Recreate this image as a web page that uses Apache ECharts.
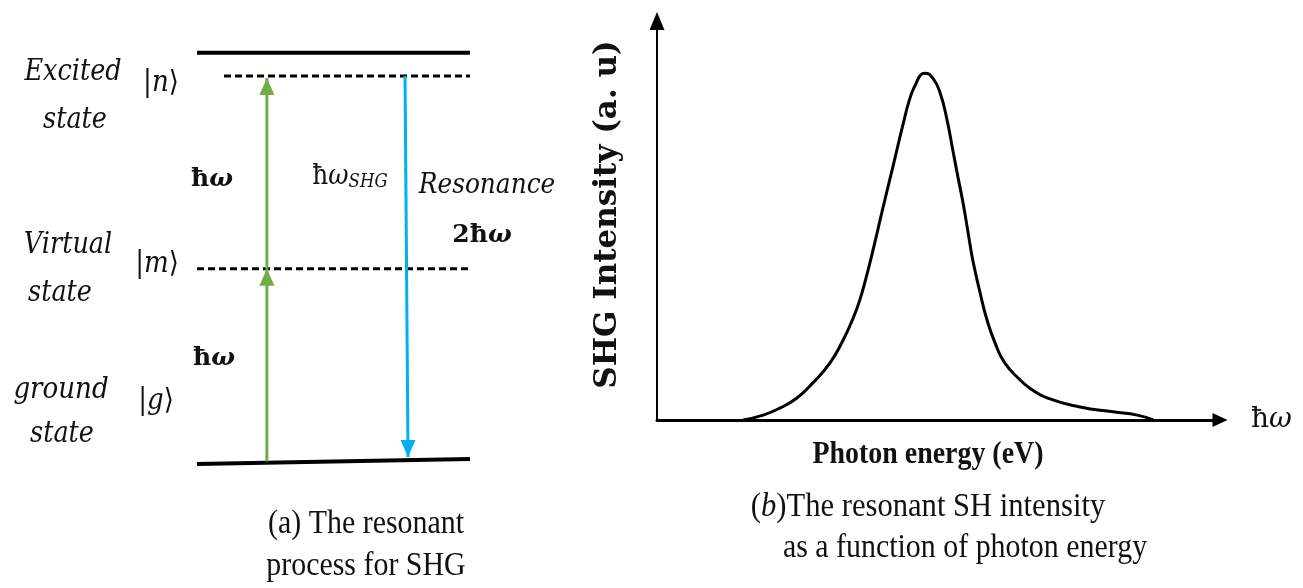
<!DOCTYPE html>
<html>
<head>
<meta charset="utf-8">
<script src="https://cdn.jsdelivr.net/npm/echarts@6/dist/echarts.min.js"></script>
<style>
html,body{margin:0;padding:0;background:#fff;}
#chart{width:1303px;height:588px;}
</style>
</head>
<body>
<div id="chart"></div>
<script>
// ---------- (a) energy-level diagram, in energy units of ħω ----------
const excitedBand = [[0, 2.12], [10, 2.12]];
const levelN = [[0.99, 2], [10, 2]];
const levelM = [[0, 1], [10, 1]];
const levelG = [[0, -0.013], [10, 0.013]];
const pumpLower = [[2.56, 0], [2.56, 1]];
const pumpUpper = [[2.56, 1], [2.56, 1.99]];
const shgEmission = [[7.62, 2], [7.73, 0.023]];

// ---------- (b) SHG intensity vs photon energy (arbitrary units) ----------
const photonEnergy = [1.51, 1.86, 2.15, 2.45, 2.73, 3.03, 3.26, 3.42, 3.54, 3.66, 3.80, 3.94, 4.13, 4.31, 4.43, 4.54, 4.62, 4.69,
  4.83, 4.96, 5.08, 5.18, 5.27, 5.36, 5.45, 5.53, 5.66, 5.78, 5.92, 6.09, 6.36, 6.53, 6.83, 7.41, 7.99, 8.41, 8.69];
const shgIntensity = [0.0, 0.12, 0.29, 0.54, 0.91, 1.40, 1.96, 2.45, 2.89, 3.48, 4.26, 5.10, 6.20, 7.25, 7.89, 8.26, 8.46, 8.50,
  8.38, 8.01, 7.35, 6.62, 5.96, 5.32, 4.58, 3.92, 3.11, 2.45, 1.89, 1.40, 0.98, 0.78, 0.54, 0.32, 0.20, 0.12, 0.0];

const GREEN = '#70AD47';
const BLUE = '#00B0F0';

function levelSeries(points, dashed, width) {
  return {
    type: 'line', xAxisIndex: 0, yAxisIndex: 0, silent: true,
    symbol: 'none', data: points,
    lineStyle: { color: '#000', width: width, type: dashed ? [7, 4] : 'solid' },
    z: 2
  };
}
function arrowSeries(points, color, up) {
  const last = points[points.length - 1];
  const data = points.slice(0, -1).map(p => ({ value: p, symbol: 'none' }));
  data.push({
    value: last, symbol: 'triangle', symbolSize: [15, 17],
    symbolRotate: up ? 0 : 180, symbolOffset: [0, up ? 8.5 : -8.5]
  });
  return {
    type: 'line', xAxisIndex: 0, yAxisIndex: 0, silent: true,
    symbol: 'triangle', showSymbol: true, data: data,
    lineStyle: { color: color, width: 3 },
    itemStyle: { color: color, borderWidth: 0 },
    z: 3
  };
}

const serif = '"DejaVu Serif", "DejaVu Sans", serif';
const times = '"Liberation Serif", serif';

function txt(text, x, y, opts) {
  opts = opts || {};
  return {
    type: 'text', x: x, y: y, z: 100, scaleX: opts.sx || 1, silent: true,
    style: {
      text: text,
      font: opts.font || ('italic 29px ' + serif),
      fill: '#111',
      align: 'center', verticalAlign: 'middle',
      textAlign: 'center', textVerticalAlign: 'middle',
      rich: opts.rich
    }
  };
}
const ketRich = {
  u: { fontSize: 29, fontFamily: serif, fill: '#111', color: '#111' },
  i: { fontSize: 29, fontFamily: serif, fontStyle: 'italic', fill: '#111', color: '#111' }
};
const hwRich = {
  h: { fontSize: 25, fontFamily: serif, fontWeight: 'bold', color: '#111' },
  w: { fontSize: 25, fontFamily: serif, fontWeight: 'bold', fontStyle: 'italic', color: '#111' }
};
const hwShgRich = {
  h: { fontSize: 27, fontFamily: serif, color: '#111' },
  w: { fontSize: 27, fontFamily: serif, fontStyle: 'italic', color: '#111' },
  s: { fontSize: 18, fontFamily: serif, fontStyle: 'italic', color: '#111', padding: [10, 0, 0, 0] }
};
const bRich = {
  b: { fontSize: 34, fontFamily: times, fontStyle: 'italic', color: '#111' },
  n: { fontSize: 34, fontFamily: times, color: '#111' }
};

const chart = echarts.init(document.getElementById('chart'), null, { renderer: 'canvas' });
chart.setOption({
  animation: false,
  backgroundColor: '#fff',
  grid: [
    { left: 197, width: 273, top: 37.45, height: 462.6 },
    { left: 657, right: 83, top: 21, bottom: 168 }
  ],
  xAxis: [
    { gridIndex: 0, type: 'value', min: 0, max: 10, show: false },
    {
      gridIndex: 1, type: 'value', min: 0, max: 9.86,
      axisLine: { show: true, lineStyle: { color: '#000', width: 3 }, symbol: ['none', 'triangle'], symbolSize: [14, 15] },
      axisTick: { show: false }, axisLabel: { show: false }, splitLine: { show: false },
      name: '{h|ħ}{w|ω}', nameLocation: 'end', nameGap: 31,
      nameTextStyle: {
        rich: {
          h: { fontSize: 28, fontFamily: serif, color: '#111' },
          w: { fontSize: 28, fontFamily: serif, fontStyle: 'italic', color: '#111' }
        }
      }
    }
  ],
  yAxis: [
    { gridIndex: 0, type: 'value', min: -0.2, max: 2.2, show: false },
    {
      gridIndex: 1, type: 'value', min: 0, max: 9.78,
      axisLine: { show: true, lineStyle: { color: '#000', width: 2 }, symbol: ['none', 'triangle'], symbolSize: [15, 18] },
      axisTick: { show: false }, axisLabel: { show: false }, splitLine: { show: false },
      name: 'SHG Intensity (a. u)', nameLocation: 'middle', nameRotate: 90, nameGap: 34,
      nameTextStyle: { fontFamily: serif, fontWeight: 'bold', fontSize: 31, color: '#111', padding: [0, 0, 0, 12] }
    }
  ],
  series: [
    levelSeries(excitedBand, false, 4),
    levelSeries(levelN, true, 3),
    levelSeries(levelM, true, 3),
    levelSeries(levelG, false, 4),
    arrowSeries(pumpLower, GREEN, true),
    arrowSeries(pumpUpper, GREEN, true),
    arrowSeries(shgEmission, BLUE, false),
    {
      type: 'line', xAxisIndex: 1, yAxisIndex: 1, silent: true,
      symbol: 'none', smooth: 0.5,
      data: photonEnergy.map((e, i) => [e, shgIntensity[i]]),
      lineStyle: { color: '#000', width: 3 }, z: 3
    }
  ],
  graphic: [
    txt('Excited', 73, 72, { sx: 0.88 }),
    txt('state', 75, 120, { sx: 0.88 }),
    txt('Virtual', 68, 245, { sx: 0.88 }),
    txt('state', 60, 293, { sx: 0.88 }),
    txt('ground', 61, 390, { sx: 0.9 }),
    txt('state', 62, 434, { sx: 0.88 }),
    txt('{u||}{i|n}{u|⟩}', 161, 83, { rich: ketRich, sx: 0.9 }),
    txt('{u||}{i|m}{u|⟩}', 157, 264, { rich: ketRich, sx: 0.9 }),
    txt('{u||}{i|g}{u|⟩}', 156, 401, { rich: ketRich, sx: 0.9 }),
    txt('{h|ħ}{w|ω}', 212, 179, { rich: hwRich }),
    txt('{h|ħ}{w|ω}', 214, 358, { rich: hwRich }),
    txt('{h|ħ}{w|ω}{s|SHG}', 350, 177, { rich: hwShgRich, sx: 0.92 }),
    txt('Resonance', 487, 186, { font: 'italic 27px ' + serif, sx: 0.92 }),
    txt('{h|2ħ}{w|ω}', 482, 235, { rich: hwRich }),
    txt('(a) The resonant', 366, 524, { font: '34px ' + times, sx: 0.88 }),
    txt('process for SHG', 366, 566, { font: '34px ' + times, sx: 0.88 }),
    txt('Photon energy (eV)', 928, 455, { font: 'bold 31px ' + times, sx: 0.9 }),
    txt('{n|(}{b|b}{n|)The resonant SH intensity}', 928, 507, { rich: bRich, sx: 0.9 }),
    txt('as a function of photon energy', 965, 548, { font: '34px ' + times, sx: 0.88 })
  ]
});
</script>
</body>
</html>
